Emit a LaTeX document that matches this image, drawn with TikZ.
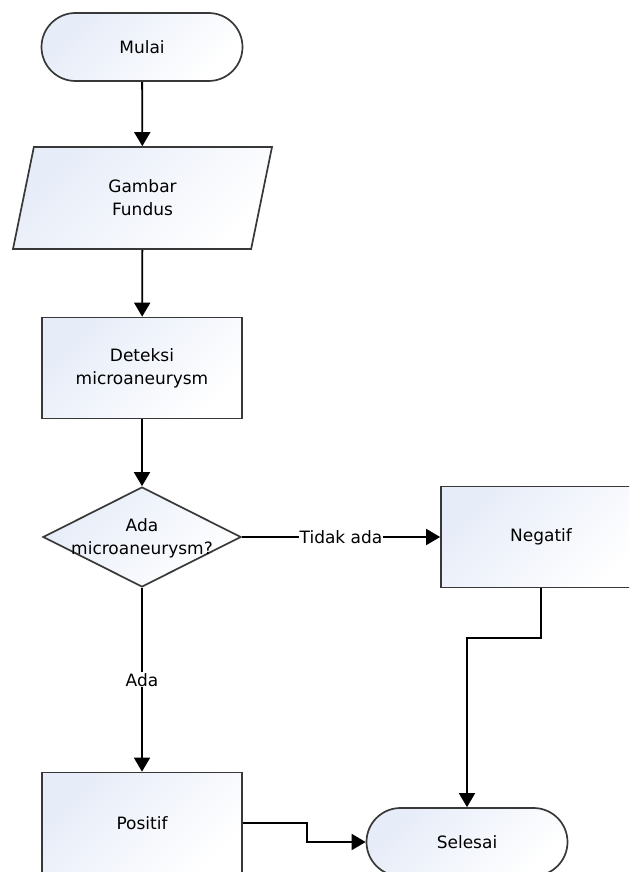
\documentclass[tikz,border=0pt]{standalone}
\usepackage{fontspec}
\setmainfont{DejaVu Sans}
\usetikzlibrary{arrows.meta,positioning,shapes.geometric,shapes.misc}
\definecolor{shapefill}{HTML}{E6ECF8}
\definecolor{shapeline}{HTML}{383838}

\begin{document}
\begin{tikzpicture}[
  x=1pt, y=-1pt,
  >={Triangle[length=14pt,width=16pt]},
  font=\fontsize{17}{23}\selectfont,
  base/.style={draw=shapeline,line width=1.7pt,top color=shapefill,
    bottom color=white,shading angle=45,align=center,inner sep=0pt},
  term/.style={base,rounded rectangle,minimum width=201pt,minimum height=68pt},
  io/.style={base,trapezium,trapezium left angle=60,trapezium right angle=120,
    trapezium stretches body=true,minimum width=259pt,minimum height=102pt},
  proc/.style={base,rectangle,minimum width=200pt,minimum height=101pt},
  decide/.style={base,diamond,minimum width=198pt,minimum height=100pt},
  flow/.style={->,line width=1.8pt,black},
  lbl/.style={fill=white,inner sep=1pt,text=black}
]
  \clip (0,0) rectangle (629,872);

  \node[term] (mulai) at (142,47) {Mulai};
  \node[io] (gambar) at (142.5,198) {Gambar\\Fundus};
  \node[proc] (deteksi) at (142,368) {Deteksi\\microaneurysm};
  \node[decide] (cek) at (142,537) {};
  \node[align=center] (cektext) at (142,538) {Ada\\microaneurysm?};
  \node[proc] (negatif) at (541,537) {Negatif};
  \node[proc] (positif) at (142,823) {Positif};
  \node[term] (selesai) at (467,842) {Selesai};

  \draw[flow] (mulai) -- (gambar);
  \draw[flow] (gambar) -- (deteksi);
  \draw[flow] (deteksi) -- (cek);
  \draw[flow] (cek.east) -- node[lbl]{Tidak ada} (negatif.west);
  \draw[flow] (cek.south) -- node[lbl]{Ada} (positif.north);
  \draw[flow] (negatif.south) -- ++(0,50) -| (selesai.north);
  \draw[flow] (positif.east) -- ++(64,0) |- (selesai.west);
\end{tikzpicture}
\end{document}
